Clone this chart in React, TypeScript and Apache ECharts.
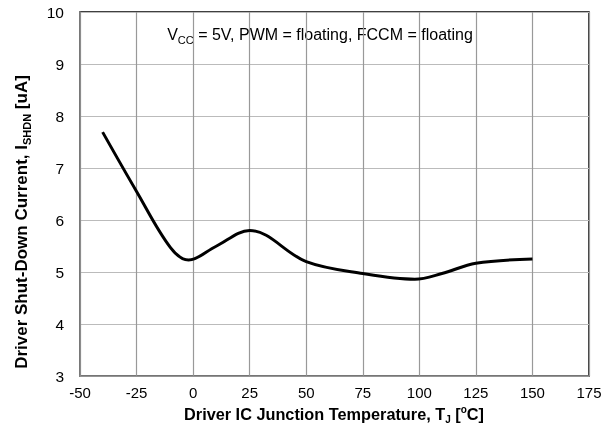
import React, { useEffect, useRef } from "react";
import * as echarts from "echarts";

const temps = [-40, -25, -10, -2, 10, 25, 50, 75, 98, 110, 125, 150];
const current = [7.69, 6.55, 5.47, 5.23, 5.49, 5.8, 5.2, 4.97, 4.86, 4.97, 5.17, 5.25];
const xTicks = [-50, -25, 0, 25, 50, 75, 100, 125, 150, 175];
const yTicks = [3, 4, 5, 6, 7, 8, 9, 10];

const FONT = "Liberation Sans, Arial, sans-serif";

export default function App() {
  const ref = useRef<HTMLDivElement>(null);
  useEffect(() => {
    if (!ref.current) return;
    const chart = echarts.init(ref.current, undefined, { renderer: "svg" });
    const bold = (size: number) => ({ fontSize: size, fontWeight: "bold", fontFamily: FONT, fill: "#000" });
    chart.setOption({
      animation: false,
      textStyle: { fontFamily: FONT },
      grid: {
        left: 80,
        right: 25,
        top: 12,
        bottom: 60,
        show: true,
        borderColor: "#000",
        borderWidth: 1.5,
      },
      graphic: [
        {
          type: "text",
          x: 320,
          y: 42,
          style: {
            text: "{n|V}{s|CC}{n| = 5V, PWM = floating, FCCM = floating}",
            align: "center",
            verticalAlign: "bottom",
            rich: {
              n: { fontSize: 16, fontFamily: FONT, fill: "#000", verticalAlign: "bottom", lineHeight: 18 },
              s: { fontSize: 11, fontFamily: FONT, fill: "#000", verticalAlign: "bottom", lineHeight: 14, padding: [0, 0, -3, 0] },
            },
          },
        },
        {
          type: "text",
          x: 334,
          y: 422,
          style: {
            text: "{b|Driver IC Junction Temperature, T}{bs|J}{b| [}{sup|o}{b|C]}",
            align: "center",
            verticalAlign: "bottom",
            rich: {
              b: { ...bold(16.3), verticalAlign: "bottom", lineHeight: 17 },
              bs: { ...bold(10), verticalAlign: "bottom", lineHeight: 12, padding: [0, 0, -2, 0] },
              sup: { ...bold(10), verticalAlign: "top", lineHeight: 12, padding: [-1, 0, 0, 0] },
            },
          },
        },
        {
          type: "text",
          x: 21,
          y: 222,
          rotation: Math.PI / 2,
          style: {
            text: "{b|Driver Shut-Down Current, I}{bs|SHDN}{b| [uA]}",
            align: "center",
            verticalAlign: "middle",
            rich: {
              b: { ...bold(17), verticalAlign: "bottom", lineHeight: 18 },
              bs: { ...bold(11), verticalAlign: "bottom", lineHeight: 12, padding: [0, 0, -2, 0] },
            },
          },
        },
      ],
      xAxis: {
        type: "value",
        min: xTicks[0],
        max: xTicks[xTicks.length - 1],
        interval: 25,
        axisLine: { show: true, onZero: false, lineStyle: { color: "#888", width: 1.5 } },
        axisTick: { show: false },
        axisLabel: { fontSize: 15, color: "#000", margin: 9, fontFamily: FONT },
        splitLine: { show: true, lineStyle: { color: "#999", width: 1.2 } },
      },
      yAxis: {
        type: "value",
        min: yTicks[0],
        max: yTicks[yTicks.length - 1],
        interval: 1,
        axisLine: { show: true, onZero: false, lineStyle: { color: "#888", width: 1.5 } },
        axisTick: { show: false },
        axisLabel: { fontSize: 15.5, color: "#000", margin: 16, fontFamily: FONT },
        splitLine: { show: true, lineStyle: { color: "#bbb", width: 1.2 } },
      },
      series: [
        {
          type: "line",
          data: temps.map((t, i) => [t, current[i]]),
          smooth: 0.35,
          showSymbol: false,
          lineStyle: { color: "#000", width: 3 },
        },
      ],
    });
    return () => chart.dispose();
  }, []);
  return <div ref={ref} style={{ position: "fixed", left: 0, top: 0, width: 614, height: 436 }} />;
}
